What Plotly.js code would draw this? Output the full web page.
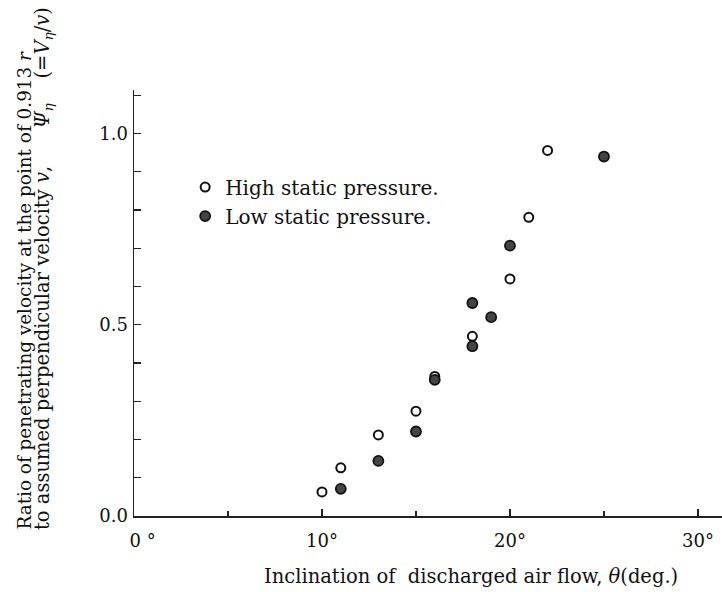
<!DOCTYPE html>
<html>
<head>
<meta charset="utf-8">
<script src="https://cdn.plot.ly/plotly-3.0.1.min.js"></script>
<style>html,body{margin:0;padding:0;background:#fff;}#chart{width:722px;height:592px;}</style>
</head>
<body>
<div id="chart"></div>
<script>
// High static pressure (open circles)
const highAngle = [10, 11, 13, 15, 16, 18, 20, 21, 22];
const highRatio = [0.063, 0.126, 0.212, 0.274, 0.365, 0.470, 0.620, 0.781, 0.956];
// Low static pressure (filled circles)
const lowAngle = [11, 13, 15, 16, 18, 18, 19, 20, 25];
const lowRatio = [0.071, 0.144, 0.221, 0.356, 0.444, 0.557, 0.520, 0.707, 0.940];

const xTickVals = [0, 10, 20, 30];
const xTickText = ["\u00a0\u00a0\u00a00 \u00b0", "10\u00b0", "20\u00b0", "30\u00b0"];
const yTickVals = [0, 0.5, 1.0];
const yTickText = ["0.0", "0.5", "1.0"];
const seriesNames = ["High static pressure.", "Low static pressure."];

const FONT = "DejaVu Serif, Liberation Serif, serif";
const NB = (n) => "\u00a0".repeat(n);

const traces = [
  {
    x: highAngle, y: highRatio, type: "scatter", mode: "markers",
    name: seriesNames[0], legendgroup: "a",
    marker: {symbol: "circle-open", size: 9, color: "#111", line: {width: 2, color: "#111"}}
  },
  {
    x: lowAngle, y: lowRatio, type: "scatter", mode: "markers",
    name: seriesNames[1], legendgroup: "b",
    marker: {symbol: "circle", size: 10, color: "#444", line: {width: 1.8, color: "#111"}}
  }
];

const layout = {
  width: 722, height: 592,
  margin: {l: 134, r: 0, t: 90, b: 76},
  paper_bgcolor: "#fff", plot_bgcolor: "#fff",
  font: {family: FONT, color: "#111", size: 16},
  showlegend: true,
  legend: {
    x: 0.087, y: 0.738, xanchor: "left", yanchor: "middle",
    bgcolor: "rgba(0,0,0,0)", font: {family: FONT, size: 20, color: "#111"},
    traceorder: "grouped", tracegroupgap: 0
  },
  xaxis: {
    range: [0, 31.28], showgrid: false, zeroline: false,
    showline: true, linecolor: "#222", linewidth: 1.5,
    ticks: "inside", ticklen: 7, tickwidth: 1.3, tickcolor: "#222",
    tickvals: xTickVals, ticktext: xTickText,
    tickfont: {family: FONT, size: 18, color: "#111"},
    ticklabelstandoff: 8,
    minor: {dtick: 5, tick0: 0, ticks: "inside", ticklen: 5, tickwidth: 1.2, tickcolor: "#222", showgrid: false}
  },
  yaxis: {
    range: [0, 1.114], showgrid: false, zeroline: false,
    showline: true, linecolor: "#222", linewidth: 1.5,
    ticks: "inside", ticklen: 7, tickwidth: 1.3, tickcolor: "#222",
    tickvals: yTickVals, ticktext: yTickText,
    tickfont: {family: FONT, size: 18, color: "#111"},
    ticklabelstandoff: 1,
    minor: {dtick: 0.1, tick0: 0, ticks: "inside", ticklen: 7, tickwidth: 1.2, tickcolor: "#222", showgrid: false}
  },
  annotations: [
    {
      text: "Ratio of penetrating velocity at the point of 0.913\u00a0<i>r</i>",
      xref: "paper", yref: "paper", x: -0.1870, y: -0.0376,
      xanchor: "center", yanchor: "bottom", textangle: -90, showarrow: false,
      font: {family: FONT, size: 18.4, color: "#111"}
    },
    {
      text: "to assumed perpendicular velocity <i>v</i>," + NB(6) + "<i>\u03a8<sub>\u03b7</sub></i>" + NB(4) + "(=<i>V<sub>\u03b7</sub></i>/<i>v</i>)",
      xref: "paper", yref: "paper", x: -0.1540, y: -0.0376,
      xanchor: "center", yanchor: "bottom", textangle: -90, showarrow: false,
      font: {family: FONT, size: 19.5, color: "#111"}
    },
    {
      text: "Inclination of\u00a0 discharged air flow,\u00a0<i>\u03b8</i>(deg.)",
      xref: "paper", yref: "paper", x: 0.573, y: -0.143,
      xanchor: "center", yanchor: "middle", showarrow: false,
      font: {family: FONT, size: 19.5, color: "#111"}
    }
  ]
};

Plotly.newPlot("chart", traces, layout, {displayModeBar: false, staticPlot: true});
</script>
</body>
</html>
